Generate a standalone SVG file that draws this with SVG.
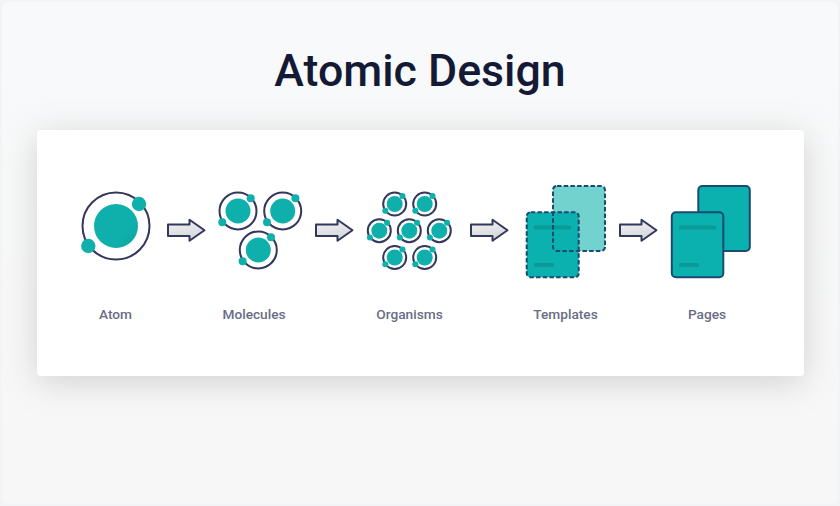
<svg xmlns="http://www.w3.org/2000/svg" xmlns:xlink="http://www.w3.org/1999/xlink" width="840" height="506" viewBox="0 0 840 506">
<style>
.ring{fill:none;stroke:#34375c;stroke-width:2}
.nuc{fill:#0fb0ab}
.el{fill:#0fb0ab}
.arrow{fill:url(#arrowGrad);stroke:#34375c;stroke-width:2;stroke-linejoin:round}
.label{font-family:Roboto,"Liberation Sans",sans-serif;font-size:13.7px;font-weight:500;fill:#686d86;text-anchor:middle}
.title{font-family:Roboto,"Liberation Sans",sans-serif;font-size:44.7px;font-weight:500;fill:#141a36;text-anchor:middle}
.dash{stroke:#1d4a70;stroke-width:2;stroke-dasharray:4.5 2.2}
.solid{stroke:#1d4a70;stroke-width:2;fill:#0bb1af}
.bar{fill:#0a9a98}
</style>
<defs>
<linearGradient id="arrowGrad" x1="0" y1="0" x2="0.3" y2="1">
<stop offset="0" stop-color="#f4f4f5"/><stop offset="1" stop-color="#d5d6da"/>
</linearGradient>
<linearGradient id="nucGrad" x1="0.2" y1="0.2" x2="1" y2="1">
<stop offset="0.6" stop-color="#0fb0ab"/><stop offset="1" stop-color="#0ca39f"/>
</linearGradient>
<linearGradient id="bgGrad" x1="0" y1="0" x2="0" y2="1">
<stop offset="0" stop-color="#f8f9fa"/><stop offset="1" stop-color="#f7f7f7"/>
</linearGradient>
<filter id="shadow" x="-15%" y="-40%" width="130%" height="180%">
<feGaussianBlur stdDeviation="17"/>
</filter>
<g id="arrowShape"><path class="arrow" d="M0 -5.7H21.5V-10.5L36.5 0L21.5 10.5V5.7H0Z"/></g>
<g id="orgA">
<circle class="ring" r="11.5"/><circle class="nuc" r="8"/>
<circle class="el" cx="7.8" cy="-8" r="3"/><circle class="el" cx="-9.4" cy="6.8" r="3"/>
</g>
<g id="molA">
<circle class="ring" r="18.5"/><circle class="nuc" r="12.5"/>
<circle class="el" cx="12.7" cy="-12.7" r="4"/>
<circle class="el" cx="-15.7" cy="11.3" r="4"/>
</g>
</defs>
<rect width="840" height="506" fill="#f3f4f6"/>
<rect x="2" y="2" width="836" height="502" rx="6" fill="url(#bgGrad)"/>
<rect x="37" y="136" width="767" height="246" rx="4" fill="#8d8d8d" opacity="0.36" filter="url(#shadow)"/>
<rect id="card" x="37" y="130" width="767" height="246" rx="4" fill="#fff"/>
<text class="title" x="420" y="86">Atomic Design</text>
<g id="connectors">
<use xlink:href="#arrowShape" x="168" y="230.3"/>
<use xlink:href="#arrowShape" x="316" y="230.3"/>
<use xlink:href="#arrowShape" x="471" y="230.3"/>
<use xlink:href="#arrowShape" x="620" y="230.3"/>
</g>
<g id="atom">
<circle class="ring" cx="116" cy="226" r="33.5"/>
<circle cx="116" cy="226" r="22" fill="url(#nucGrad)"/>
<circle cx="139" cy="204" r="7.2" class="el"/>
<circle cx="88.3" cy="246" r="7.2" class="el"/>
<text class="label" x="115.5" y="319">Atom</text>
</g>
<g id="molecules">
<use xlink:href="#molA" x="238" y="211"/>
<use xlink:href="#molA" x="282.7" y="211"/>
<use xlink:href="#molA" x="258.3" y="250"/>
<text class="label" x="254" y="319">Molecules</text>
</g>
<g id="organisms">
<use xlink:href="#orgA" x="394.7" y="204"/>
<use xlink:href="#orgA" x="424.7" y="204"/>
<use xlink:href="#orgA" x="379.3" y="230.7"/>
<use xlink:href="#orgA" x="409.3" y="230.7"/>
<use xlink:href="#orgA" x="439.3" y="230.7"/>
<use xlink:href="#orgA" x="394.7" y="257.5"/>
<use xlink:href="#orgA" x="424.7" y="257.5"/>
<text class="label" x="409.5" y="319">Organisms</text>
</g>
<g id="templates">
<rect x="553" y="186" width="52" height="65" rx="4" fill="#72d2ce"/>
<rect class="dash" x="526.7" y="212.3" width="52" height="65" rx="4" fill="#0bb1af"/>
<rect class="bar" x="534" y="225.5" width="37" height="4" rx="1"/>
<rect class="bar" x="534" y="263" width="20" height="4" rx="1"/>
<rect class="dash" x="553" y="186" width="52" height="65" rx="4" fill="none"/>
<text class="label" x="565.5" y="319">Templates</text>
</g>
<g id="pages">
<rect class="solid" x="698.3" y="186" width="51.5" height="65" rx="4"/>
<rect class="solid" x="671.8" y="212.3" width="51.5" height="65" rx="4"/>
<rect class="bar" x="679" y="225.5" width="37" height="4" rx="1"/>
<rect class="bar" x="679" y="263" width="20" height="4" rx="1"/>
<text class="label" x="707" y="319">Pages</text>
</g>
</svg>
